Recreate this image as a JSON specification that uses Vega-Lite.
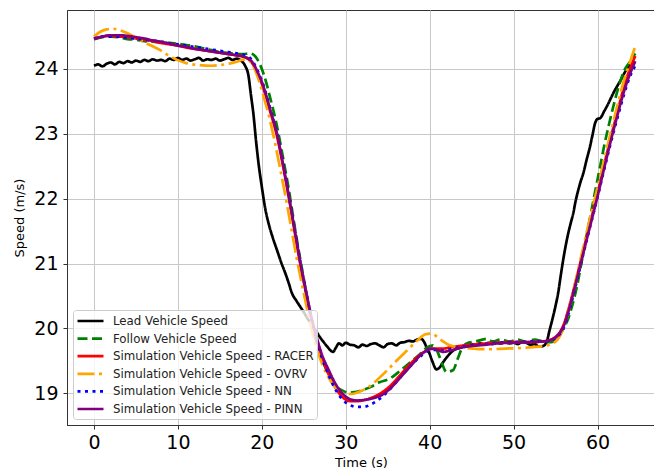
{
  "$schema": "https://vega.github.io/schema/vega-lite/v6.json",
  "width": 588,
  "height": 415,
  "autosize": {"type": "none"},
  "padding": {"left": 67, "top": 10, "right": 0, "bottom": 50},
  "background": "white",
  "config": {
    "view": {"stroke": "#333333", "strokeWidth": 1},
    "font": "DejaVu Sans",
    "axis": {
      "grid": true, "gridColor": "#c8c8c8", "gridWidth": 1,
      "tickSize": 4, "tickColor": "#333333", "domainColor": "#333333",
      "labelFont": "DejaVu Sans", "labelFontSize": 19, "labelColor": "#000000",
      "titleFont": "DejaVu Sans", "titleFontSize": 13, "titleFontWeight": "normal", "titleColor": "#000000",
      "labelFlush": false, "labelOverlap": false
    },
    "legend": {
      "orient": "bottom-left", "offset": 6, "fillColor": "rgba(255,255,255,0.8)", "strokeColor": "#cccccc",
      "cornerRadius": 3, "padding": 3, "symbolType": "M-1,0H3", "symbolSize": 169,
      "symbolStrokeWidth": 2.7, "labelFont": "DejaVu Sans", "labelFontSize": 11.8,
      "labelColor": "#222222", "rowPadding": 2.6, "labelOffset": 21, "labelLimit": 0
    }
  },
  "datasets": {
    "names": [
      {"k": "L", "name": "Lead Vehicle Speed"},
      {"k": "F", "name": "Follow Vehicle Speed"},
      {"k": "R", "name": "Simulation Vehicle Speed - RACER"},
      {"k": "O", "name": "Simulation Vehicle Speed - OVRV"},
      {"k": "N", "name": "Simulation Vehicle Speed - NN"},
      {"k": "P", "name": "Simulation Vehicle Speed - PINN"}
    ]
  },
  "data": {"values": [
    {"s":"L","t":0,"v":24.05},{"s":"L","t":0.5,"v":24.07},{"s":"L","t":1,"v":24.04},{"s":"L","t":1.5,"v":24.08},{"s":"L","t":2,"v":24.1},{"s":"L","t":2.5,"v":24.07},{"s":"L","t":3,"v":24.11},{"s":"L","t":3.5,"v":24.09},{"s":"L","t":4,"v":24.12},{"s":"L","t":4.5,"v":24.1},{"s":"L","t":5,"v":24.13},{"s":"L","t":5.5,"v":24.11},{"s":"L","t":6,"v":24.14},{"s":"L","t":6.5,"v":24.12},{"s":"L","t":7,"v":24.15},{"s":"L","t":7.5,"v":24.13},{"s":"L","t":8,"v":24.14},{"s":"L","t":8.5,"v":24.12},{"s":"L","t":9,"v":24.16},{"s":"L","t":9.5,"v":24.14},{"s":"L","t":10,"v":24.17},{"s":"L","t":10.5,"v":24.14},{"s":"L","t":11,"v":24.16},{"s":"L","t":11.5,"v":24.13},{"s":"L","t":12,"v":24.15},{"s":"L","t":12.5,"v":24.17},{"s":"L","t":13,"v":24.13},{"s":"L","t":13.5,"v":24.15},{"s":"L","t":14,"v":24.14},{"s":"L","t":14.5,"v":24.16},{"s":"L","t":15,"v":24.13},{"s":"L","t":15.5,"v":24.15},{"s":"L","t":16,"v":24.17},{"s":"L","t":16.5,"v":24.14},{"s":"L","t":17,"v":24.16},{"s":"L","t":17.5,"v":24.13},{"s":"L","t":18,"v":24.05},{"s":"L","t":18.4,"v":23.9},{"s":"L","t":18.7,"v":23.6},{"s":"L","t":19,"v":23.3},{"s":"L","t":19.3,"v":22.9},{"s":"L","t":19.6,"v":22.55},{"s":"L","t":20,"v":22.18},{"s":"L","t":20.4,"v":21.85},{"s":"L","t":20.8,"v":21.62},{"s":"L","t":21.3,"v":21.4},{"s":"L","t":21.8,"v":21.21},{"s":"L","t":22.3,"v":21.02},{"s":"L","t":22.8,"v":20.85},{"s":"L","t":23.2,"v":20.7},{"s":"L","t":23.6,"v":20.54},{"s":"L","t":24.1,"v":20.43},{"s":"L","t":24.6,"v":20.33},{"s":"L","t":25,"v":20.25},{"s":"L","t":25.5,"v":20.14},{"s":"L","t":26,"v":20.05},{"s":"L","t":26.5,"v":19.95},{"s":"L","t":26.9,"v":19.87},{"s":"L","t":27.3,"v":19.8},{"s":"L","t":27.8,"v":19.72},{"s":"L","t":28.2,"v":19.66},{"s":"L","t":28.5,"v":19.64},{"s":"L","t":28.8,"v":19.7},{"s":"L","t":29.2,"v":19.77},{"s":"L","t":29.6,"v":19.74},{"s":"L","t":30,"v":19.78},{"s":"L","t":30.5,"v":19.75},{"s":"L","t":31,"v":19.74},{"s":"L","t":31.5,"v":19.71},{"s":"L","t":32,"v":19.75},{"s":"L","t":32.5,"v":19.73},{"s":"L","t":33,"v":19.76},{"s":"L","t":33.5,"v":19.77},{"s":"L","t":34,"v":19.74},{"s":"L","t":34.5,"v":19.71},{"s":"L","t":35,"v":19.76},{"s":"L","t":35.5,"v":19.77},{"s":"L","t":36,"v":19.74},{"s":"L","t":36.5,"v":19.78},{"s":"L","t":37,"v":19.79},{"s":"L","t":37.5,"v":19.81},{"s":"L","t":38,"v":19.8},{"s":"L","t":38.5,"v":19.83},{"s":"L","t":39,"v":19.84},{"s":"L","t":39.3,"v":19.8},{"s":"L","t":39.6,"v":19.72},{"s":"L","t":39.9,"v":19.64},{"s":"L","t":40.3,"v":19.5},{"s":"L","t":40.8,"v":19.37},{"s":"L","t":41.2,"v":19.4},{"s":"L","t":41.6,"v":19.48},{"s":"L","t":42,"v":19.55},{"s":"L","t":42.4,"v":19.61},{"s":"L","t":42.8,"v":19.66},{"s":"L","t":43.5,"v":19.7},{"s":"L","t":44,"v":19.73},{"s":"L","t":44.5,"v":19.74},{"s":"L","t":45,"v":19.76},{"s":"L","t":45.5,"v":19.74},{"s":"L","t":46,"v":19.77},{"s":"L","t":46.5,"v":19.75},{"s":"L","t":47,"v":19.78},{"s":"L","t":47.5,"v":19.76},{"s":"L","t":48,"v":19.78},{"s":"L","t":48.5,"v":19.77},{"s":"L","t":49,"v":19.79},{"s":"L","t":49.5,"v":19.77},{"s":"L","t":50,"v":19.78},{"s":"L","t":50.5,"v":19.76},{"s":"L","t":51,"v":19.79},{"s":"L","t":51.5,"v":19.78},{"s":"L","t":52,"v":19.75},{"s":"L","t":52.5,"v":19.76},{"s":"L","t":53,"v":19.72},{"s":"L","t":53.5,"v":19.73},{"s":"L","t":53.9,"v":19.78},{"s":"L","t":54.3,"v":19.98},{"s":"L","t":54.6,"v":20.13},{"s":"L","t":55,"v":20.35},{"s":"L","t":55.3,"v":20.54},{"s":"L","t":55.6,"v":20.8},{"s":"L","t":55.9,"v":21.05},{"s":"L","t":56.2,"v":21.27},{"s":"L","t":56.5,"v":21.46},{"s":"L","t":56.8,"v":21.62},{"s":"L","t":57.1,"v":21.77},{"s":"L","t":57.4,"v":21.97},{"s":"L","t":57.7,"v":22.13},{"s":"L","t":58,"v":22.27},{"s":"L","t":58.3,"v":22.39},{"s":"L","t":58.7,"v":22.6},{"s":"L","t":59.1,"v":22.8},{"s":"L","t":59.4,"v":22.98},{"s":"L","t":59.7,"v":23.16},{"s":"L","t":60,"v":23.23},{"s":"L","t":60.3,"v":23.24},{"s":"L","t":60.8,"v":23.35},{"s":"L","t":61.3,"v":23.47},{"s":"L","t":61.7,"v":23.58},{"s":"L","t":62.1,"v":23.68},{"s":"L","t":62.5,"v":23.77},{"s":"L","t":62.9,"v":23.86},{"s":"L","t":63.3,"v":23.96},{"s":"L","t":63.7,"v":24.04},{"s":"L","t":64.1,"v":24.08},{"s":"L","t":64.5,"v":24.11},

    {"s":"F","t":0,"v":24.46},{"s":"F","t":1,"v":24.49},{"s":"F","t":2,"v":24.5},{"s":"F","t":3,"v":24.49},{"s":"F","t":4,"v":24.46},{"s":"F","t":5,"v":24.45},{"s":"F","t":6,"v":24.43},{"s":"F","t":7,"v":24.42},{"s":"F","t":8,"v":24.41},{"s":"F","t":9,"v":24.4},{"s":"F","t":10,"v":24.39},{"s":"F","t":11,"v":24.37},{"s":"F","t":12,"v":24.35},{"s":"F","t":13,"v":24.32},{"s":"F","t":14,"v":24.29},{"s":"F","t":15,"v":24.26},{"s":"F","t":16,"v":24.25},{"s":"F","t":17,"v":24.23},{"s":"F","t":17.8,"v":24.23},{"s":"F","t":18.5,"v":24.24},{"s":"F","t":19,"v":24.22},{"s":"F","t":19.5,"v":24.14},{"s":"F","t":20,"v":24.0},{"s":"F","t":20.5,"v":23.8},{"s":"F","t":21,"v":23.55},{"s":"F","t":21.7,"v":23.18},{"s":"F","t":22.5,"v":22.65},{"s":"F","t":23.2,"v":22.15},{"s":"F","t":24,"v":21.5},{"s":"F","t":24.6,"v":21.05},{"s":"F","t":25.3,"v":20.55},{"s":"F","t":25.9,"v":20.12},{"s":"F","t":26.5,"v":19.8},{"s":"F","t":27.1,"v":19.55},{"s":"F","t":28,"v":19.28},{"s":"F","t":28.9,"v":19.1},{"s":"F","t":29.8,"v":19.03},{"s":"F","t":30.5,"v":19.01},{"s":"F","t":31.1,"v":19.02},{"s":"F","t":32,"v":19.05},{"s":"F","t":33,"v":19.1},{"s":"F","t":34,"v":19.17},{"s":"F","t":35.3,"v":19.23},{"s":"F","t":36.5,"v":19.35},{"s":"F","t":37.7,"v":19.48},{"s":"F","t":38.8,"v":19.6},{"s":"F","t":39.6,"v":19.7},{"s":"F","t":40.4,"v":19.74},{"s":"F","t":41,"v":19.62},{"s":"F","t":41.5,"v":19.45},{"s":"F","t":42,"v":19.33},{"s":"F","t":42.8,"v":19.36},{"s":"F","t":43.3,"v":19.52},{"s":"F","t":43.8,"v":19.68},{"s":"F","t":44.4,"v":19.77},{"s":"F","t":45.5,"v":19.8},{"s":"F","t":46.8,"v":19.84},{"s":"F","t":47.5,"v":19.8},{"s":"F","t":48.5,"v":19.83},{"s":"F","t":49.5,"v":19.8},{"s":"F","t":50.5,"v":19.83},{"s":"F","t":51.5,"v":19.79},{"s":"F","t":52.5,"v":19.83},{"s":"F","t":53.5,"v":19.8},{"s":"F","t":54.5,"v":19.79},{"s":"F","t":55,"v":19.82},{"s":"F","t":55.5,"v":19.9},{"s":"F","t":56,"v":20.01},{"s":"F","t":56.5,"v":20.15},{"s":"F","t":57,"v":20.36},{"s":"F","t":57.5,"v":20.62},{"s":"F","t":58,"v":20.95},{"s":"F","t":58.5,"v":21.3},{"s":"F","t":59.1,"v":21.7},{"s":"F","t":59.7,"v":22.1},{"s":"F","t":60.3,"v":22.49},{"s":"F","t":60.8,"v":22.82},{"s":"F","t":61.3,"v":23.11},{"s":"F","t":61.9,"v":23.43},{"s":"F","t":62.5,"v":23.72},{"s":"F","t":63.2,"v":23.98},{"s":"F","t":63.8,"v":24.1},{"s":"F","t":64.5,"v":24.24},

    {"s":"R","t":0,"v":24.47},{"s":"R","t":1,"v":24.5},{"s":"R","t":2,"v":24.51},{"s":"R","t":3,"v":24.5},{"s":"R","t":4,"v":24.49},{"s":"R","t":5,"v":24.47},{"s":"R","t":6,"v":24.45},{"s":"R","t":7,"v":24.43},{"s":"R","t":8,"v":24.4},{"s":"R","t":9,"v":24.38},{"s":"R","t":10,"v":24.36},{"s":"R","t":11,"v":24.33},{"s":"R","t":12,"v":24.31},{"s":"R","t":13,"v":24.29},{"s":"R","t":14,"v":24.27},{"s":"R","t":15,"v":24.25},{"s":"R","t":16,"v":24.23},{"s":"R","t":17,"v":24.21},{"s":"R","t":17.8,"v":24.19},{"s":"R","t":18.5,"v":24.14},{"s":"R","t":19,"v":24.06},{"s":"R","t":19.5,"v":23.93},{"s":"R","t":20,"v":23.77},{"s":"R","t":20.5,"v":23.57},{"s":"R","t":21,"v":23.34},{"s":"R","t":21.7,"v":23.02},{"s":"R","t":22.5,"v":22.52},{"s":"R","t":23.2,"v":22.03},{"s":"R","t":24,"v":21.43},{"s":"R","t":24.6,"v":20.98},{"s":"R","t":25.3,"v":20.52},{"s":"R","t":25.9,"v":20.14},{"s":"R","t":26.5,"v":19.83},{"s":"R","t":27.1,"v":19.57},{"s":"R","t":28,"v":19.28},{"s":"R","t":28.9,"v":19.06},{"s":"R","t":29.8,"v":18.92},{"s":"R","t":30.5,"v":18.88},{"s":"R","t":31.3,"v":18.88},{"s":"R","t":32.3,"v":18.9},{"s":"R","t":33.4,"v":18.95},{"s":"R","t":34.5,"v":19.03},{"s":"R","t":35.5,"v":19.14},{"s":"R","t":36.4,"v":19.27},{"s":"R","t":37.3,"v":19.4},{"s":"R","t":38.2,"v":19.52},{"s":"R","t":38.9,"v":19.6},{"s":"R","t":39.5,"v":19.65},{"s":"R","t":40,"v":19.68},{"s":"R","t":40.7,"v":19.69},{"s":"R","t":41.6,"v":19.69},{"s":"R","t":42.5,"v":19.71},{"s":"R","t":43.6,"v":19.73},{"s":"R","t":45,"v":19.75},{"s":"R","t":46.8,"v":19.77},{"s":"R","t":48,"v":19.78},{"s":"R","t":50,"v":19.79},{"s":"R","t":52,"v":19.79},{"s":"R","t":53.5,"v":19.8},{"s":"R","t":54.3,"v":19.82},{"s":"R","t":55,"v":19.87},{"s":"R","t":55.5,"v":19.94},{"s":"R","t":56,"v":20.07},{"s":"R","t":56.5,"v":20.28},{"s":"R","t":57.1,"v":20.57},{"s":"R","t":57.7,"v":20.88},{"s":"R","t":58.3,"v":21.2},{"s":"R","t":59.1,"v":21.61},{"s":"R","t":59.9,"v":22.03},{"s":"R","t":60.7,"v":22.47},{"s":"R","t":61.5,"v":22.9},{"s":"R","t":62.3,"v":23.3},{"s":"R","t":63.1,"v":23.7},{"s":"R","t":63.8,"v":23.98},{"s":"R","t":64.5,"v":24.2},

    {"s":"O","t":0,"v":24.5},{"s":"O","t":0.7,"v":24.57},{"s":"O","t":1.5,"v":24.61},{"s":"O","t":2.3,"v":24.62},{"s":"O","t":3,"v":24.6},{"s":"O","t":4,"v":24.55},{"s":"O","t":5,"v":24.48},{"s":"O","t":6,"v":24.41},{"s":"O","t":7,"v":24.35},{"s":"O","t":7.9,"v":24.29},{"s":"O","t":9,"v":24.2},{"s":"O","t":9.9,"v":24.14},{"s":"O","t":11,"v":24.09},{"s":"O","t":12.6,"v":24.06},{"s":"O","t":14,"v":24.05},{"s":"O","t":15,"v":24.06},{"s":"O","t":16,"v":24.08},{"s":"O","t":17,"v":24.11},{"s":"O","t":17.6,"v":24.14},{"s":"O","t":18.2,"v":24.15},{"s":"O","t":18.7,"v":24.1},{"s":"O","t":19.2,"v":23.98},{"s":"O","t":19.7,"v":23.8},{"s":"O","t":20.2,"v":23.58},{"s":"O","t":20.8,"v":23.3},{"s":"O","t":21.5,"v":22.9},{"s":"O","t":22.2,"v":22.45},{"s":"O","t":22.8,"v":22.05},{"s":"O","t":23.5,"v":21.55},{"s":"O","t":24.2,"v":21.05},{"s":"O","t":24.9,"v":20.6},{"s":"O","t":25.6,"v":20.18},{"s":"O","t":26.2,"v":19.85},{"s":"O","t":26.9,"v":19.55},{"s":"O","t":27.6,"v":19.33},{"s":"O","t":28.4,"v":19.15},{"s":"O","t":29.3,"v":19.03},{"s":"O","t":30,"v":18.99},{"s":"O","t":30.6,"v":18.99},{"s":"O","t":31.5,"v":19.02},{"s":"O","t":32.5,"v":19.08},{"s":"O","t":33.5,"v":19.18},{"s":"O","t":34.9,"v":19.35},{"s":"O","t":36.1,"v":19.51},{"s":"O","t":37.3,"v":19.66},{"s":"O","t":38.5,"v":19.81},{"s":"O","t":39.5,"v":19.91},{"s":"O","t":40.2,"v":19.92},{"s":"O","t":40.8,"v":19.88},{"s":"O","t":41.5,"v":19.81},{"s":"O","t":42.4,"v":19.74},{"s":"O","t":43.5,"v":19.71},{"s":"O","t":45.2,"v":19.69},{"s":"O","t":47,"v":19.68},{"s":"O","t":49,"v":19.69},{"s":"O","t":51,"v":19.7},{"s":"O","t":53,"v":19.72},{"s":"O","t":54.3,"v":19.75},{"s":"O","t":55,"v":19.8},{"s":"O","t":55.5,"v":19.88},{"s":"O","t":56,"v":20.03},{"s":"O","t":56.5,"v":20.25},{"s":"O","t":57.1,"v":20.57},{"s":"O","t":57.7,"v":20.91},{"s":"O","t":58.3,"v":21.25},{"s":"O","t":59.1,"v":21.7},{"s":"O","t":59.9,"v":22.12},{"s":"O","t":60.7,"v":22.55},{"s":"O","t":61.5,"v":22.98},{"s":"O","t":62.3,"v":23.4},{"s":"O","t":63.1,"v":23.8},{"s":"O","t":63.8,"v":24.08},{"s":"O","t":64.5,"v":24.35},

    {"s":"N","t":0,"v":24.47},{"s":"N","t":1,"v":24.5},{"s":"N","t":2,"v":24.5},{"s":"N","t":3,"v":24.5},{"s":"N","t":4,"v":24.48},{"s":"N","t":5,"v":24.47},{"s":"N","t":6,"v":24.45},{"s":"N","t":7,"v":24.44},{"s":"N","t":8,"v":24.42},{"s":"N","t":9,"v":24.4},{"s":"N","t":10,"v":24.38},{"s":"N","t":11,"v":24.36},{"s":"N","t":12,"v":24.34},{"s":"N","t":13,"v":24.32},{"s":"N","t":14,"v":24.3},{"s":"N","t":15,"v":24.28},{"s":"N","t":16,"v":24.26},{"s":"N","t":17,"v":24.24},{"s":"N","t":17.8,"v":24.22},{"s":"N","t":18.5,"v":24.18},{"s":"N","t":19,"v":24.1},{"s":"N","t":19.5,"v":23.97},{"s":"N","t":20,"v":23.82},{"s":"N","t":20.5,"v":23.62},{"s":"N","t":21,"v":23.39},{"s":"N","t":21.7,"v":23.07},{"s":"N","t":22.5,"v":22.57},{"s":"N","t":23.2,"v":22.07},{"s":"N","t":24,"v":21.47},{"s":"N","t":24.6,"v":21.02},{"s":"N","t":25.3,"v":20.55},{"s":"N","t":25.9,"v":20.16},{"s":"N","t":26.5,"v":19.84},{"s":"N","t":27.1,"v":19.57},{"s":"N","t":28,"v":19.27},{"s":"N","t":28.9,"v":19.03},{"s":"N","t":29.8,"v":18.88},{"s":"N","t":30.5,"v":18.82},{"s":"N","t":31.3,"v":18.79},{"s":"N","t":32.1,"v":18.79},{"s":"N","t":33,"v":18.83},{"s":"N","t":34.1,"v":18.92},{"s":"N","t":35,"v":19.03},{"s":"N","t":36,"v":19.17},{"s":"N","t":37,"v":19.32},{"s":"N","t":38,"v":19.46},{"s":"N","t":38.9,"v":19.57},{"s":"N","t":39.5,"v":19.63},{"s":"N","t":40,"v":19.66},{"s":"N","t":40.7,"v":19.67},{"s":"N","t":41.6,"v":19.66},{"s":"N","t":42.5,"v":19.68},{"s":"N","t":43.6,"v":19.71},{"s":"N","t":45,"v":19.74},{"s":"N","t":46.8,"v":19.76},{"s":"N","t":48,"v":19.78},{"s":"N","t":50,"v":19.79},{"s":"N","t":52,"v":19.8},{"s":"N","t":53.5,"v":19.8},{"s":"N","t":54.3,"v":19.81},{"s":"N","t":55,"v":19.85},{"s":"N","t":55.5,"v":19.91},{"s":"N","t":56,"v":20.02},{"s":"N","t":56.5,"v":20.21},{"s":"N","t":57.1,"v":20.5},{"s":"N","t":57.7,"v":20.82},{"s":"N","t":58.3,"v":21.14},{"s":"N","t":59.1,"v":21.56},{"s":"N","t":59.9,"v":21.97},{"s":"N","t":60.7,"v":22.4},{"s":"N","t":61.5,"v":22.82},{"s":"N","t":62.3,"v":23.21},{"s":"N","t":63.1,"v":23.58},{"s":"N","t":63.8,"v":23.86},{"s":"N","t":64.5,"v":24.05},

    {"s":"P","t":0,"v":24.46},{"s":"P","t":1,"v":24.5},{"s":"P","t":2,"v":24.52},{"s":"P","t":3,"v":24.52},{"s":"P","t":4,"v":24.51},{"s":"P","t":5,"v":24.49},{"s":"P","t":6,"v":24.47},{"s":"P","t":7,"v":24.44},{"s":"P","t":8,"v":24.42},{"s":"P","t":9,"v":24.39},{"s":"P","t":10,"v":24.36},{"s":"P","t":11,"v":24.34},{"s":"P","t":12,"v":24.31},{"s":"P","t":13,"v":24.29},{"s":"P","t":14,"v":24.27},{"s":"P","t":15,"v":24.25},{"s":"P","t":16,"v":24.23},{"s":"P","t":17,"v":24.21},{"s":"P","t":17.8,"v":24.19},{"s":"P","t":18.5,"v":24.15},{"s":"P","t":19,"v":24.08},{"s":"P","t":19.5,"v":23.95},{"s":"P","t":20,"v":23.8},{"s":"P","t":20.5,"v":23.6},{"s":"P","t":21,"v":23.37},{"s":"P","t":21.7,"v":23.06},{"s":"P","t":22.5,"v":22.55},{"s":"P","t":23.2,"v":22.05},{"s":"P","t":24,"v":21.45},{"s":"P","t":24.6,"v":21.0},{"s":"P","t":25.3,"v":20.55},{"s":"P","t":25.9,"v":20.18},{"s":"P","t":26.5,"v":19.88},{"s":"P","t":27.1,"v":19.62},{"s":"P","t":28,"v":19.35},{"s":"P","t":28.9,"v":19.12},{"s":"P","t":29.8,"v":18.97},{"s":"P","t":30.5,"v":18.91},{"s":"P","t":31.3,"v":18.89},{"s":"P","t":32.3,"v":18.9},{"s":"P","t":33.4,"v":18.93},{"s":"P","t":34.5,"v":18.99},{"s":"P","t":35.5,"v":19.1},{"s":"P","t":36.4,"v":19.23},{"s":"P","t":37.3,"v":19.36},{"s":"P","t":38.2,"v":19.49},{"s":"P","t":38.9,"v":19.59},{"s":"P","t":39.5,"v":19.65},{"s":"P","t":40,"v":19.69},{"s":"P","t":40.7,"v":19.68},{"s":"P","t":41.6,"v":19.64},{"s":"P","t":42.5,"v":19.66},{"s":"P","t":43.6,"v":19.7},{"s":"P","t":45,"v":19.73},{"s":"P","t":46.8,"v":19.75},{"s":"P","t":48,"v":19.77},{"s":"P","t":50,"v":19.78},{"s":"P","t":52,"v":19.79},{"s":"P","t":53.5,"v":19.8},{"s":"P","t":54.3,"v":19.82},{"s":"P","t":55,"v":19.86},{"s":"P","t":55.5,"v":19.93},{"s":"P","t":56,"v":20.05},{"s":"P","t":56.5,"v":20.25},{"s":"P","t":57.1,"v":20.54},{"s":"P","t":57.7,"v":20.85},{"s":"P","t":58.3,"v":21.16},{"s":"P","t":59.1,"v":21.57},{"s":"P","t":59.9,"v":21.98},{"s":"P","t":60.7,"v":22.42},{"s":"P","t":61.5,"v":22.85},{"s":"P","t":62.3,"v":23.25},{"s":"P","t":63.1,"v":23.63},{"s":"P","t":63.8,"v":23.9},{"s":"P","t":64.5,"v":24.12}
  ]},
  "transform": [
    {"lookup": "s", "from": {"data": {"name": "names"}, "key": "k", "fields": ["name"]}}
  ],
  "mark": {"type": "line", "strokeWidth": 2.7, "interpolate": "monotone", "clip": true},
  "encoding": {
    "x": {
      "field": "t", "type": "quantitative", "title": "Time (s)",
      "scale": {"domain": [-3.22, 66.85], "nice": false, "zero": false},
      "axis": {"values": [0, 10, 20, 30, 40, 50, 60], "labelPadding": 4, "titlePadding": 4}
    },
    "y": {
      "field": "v", "type": "quantitative", "title": "Speed (m/s)",
      "scale": {"domain": [18.512, 24.909], "nice": false, "zero": false},
      "axis": {"values": [19, 20, 21, 22, 23, 24], "labelPadding": 5, "titlePadding": 7}
    },
    "color": {
      "field": "name", "type": "nominal", "title": null,
      "scale": {
        "domain": ["Lead Vehicle Speed", "Follow Vehicle Speed", "Simulation Vehicle Speed - RACER", "Simulation Vehicle Speed - OVRV", "Simulation Vehicle Speed - NN", "Simulation Vehicle Speed - PINN"],
        "range": ["#000000", "#008000", "#ff0000", "#ffa500", "#0000ff", "#800080"]
      }
    },
    "strokeDash": {
      "field": "name", "type": "nominal", "title": null,
      "scale": {
        "domain": ["Lead Vehicle Speed", "Follow Vehicle Speed", "Simulation Vehicle Speed - RACER", "Simulation Vehicle Speed - OVRV", "Simulation Vehicle Speed - NN", "Simulation Vehicle Speed - PINN"],
        "range": [[1, 0], [10, 4.5], [1, 0], [17, 4.5, 3, 4.5], [3, 4.5], [1, 0]]
      }
    }
  }
}
